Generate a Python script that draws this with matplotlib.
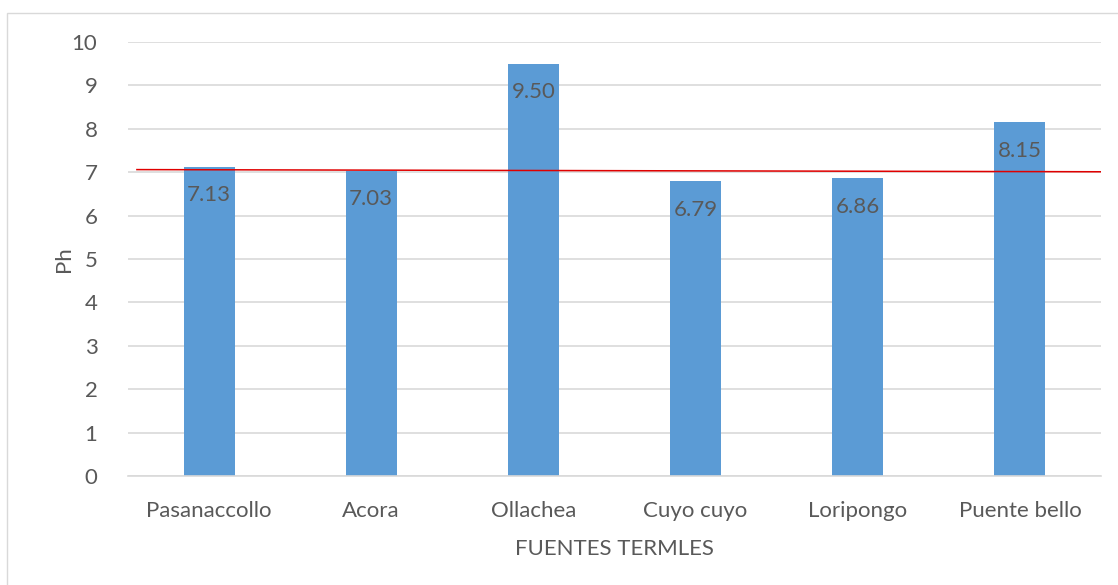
import matplotlib
matplotlib.use("Agg")
import matplotlib.pyplot as plt
from matplotlib.patches import Rectangle

# data
fuentes = ["Pasanaccollo", "Acora", "Ollachea", "Cuyo cuyo", "Loripongo", "Puente bello"]
ph = [7.13, 7.03, 9.50, 6.79, 6.86, 8.15]
# red reference line (slightly tilted in the original)
ref_x = [-0.445, 5.5]
ref_y = [7.06, 7.01]

plt.rcParams['font.family'] = ['Lato', 'DejaVu Sans']
txt = "#595959"

fig = plt.figure(figsize=(11.18, 5.85), dpi=100)
# outer chart border
fig.patches.append(Rectangle((7/1118, -0.01), 1.1, (585-13)/585 + 0.01, transform=fig.transFigure,
                             fill=False, edgecolor="#d9d9d9", linewidth=1))

ax = fig.add_axes([128/1118, 109/585, 973/1118, 434/585])
x = list(range(len(fuentes)))
bars = ax.bar(x, ph, width=0.315, color="#5b9bd5", zorder=2)
for xi, v in zip(x, ph):
    ax.text(xi, v - 0.42, f"{v:.2f}", ha="center", va="top", fontsize=16, color=txt, zorder=4)

ax.plot(ref_x, ref_y, color="#e00000", linewidth=1.1, zorder=3)

ax.set_xlim(-0.5, 5.5)
ax.set_ylim(0, 10)
ax.set_yticks(range(0, 11))
ax.set_xticks(x)
ax.set_xticklabels(fuentes)
ax.grid(axis="y", color="#d9d9d9", linewidth=1.2, zorder=0)
ax.set_axisbelow(True)
for s in ["top", "right", "left"]:
    ax.spines[s].set_visible(False)
ax.spines["bottom"].set_color("#d9d9d9")
ax.spines["bottom"].set_linewidth(1.2)
ax.tick_params(axis="both", length=0, labelsize=16, labelcolor=txt)
ax.tick_params(axis="y", pad=22)
ax.tick_params(axis="x", pad=18)
ax.set_ylabel("Ph", fontsize=16, color=txt, labelpad=-2)
ax.set_xlabel("FUENTES TERMLES", fontsize=16, color=txt, labelpad=13)

fig.savefig("out.png", dpi=100)
